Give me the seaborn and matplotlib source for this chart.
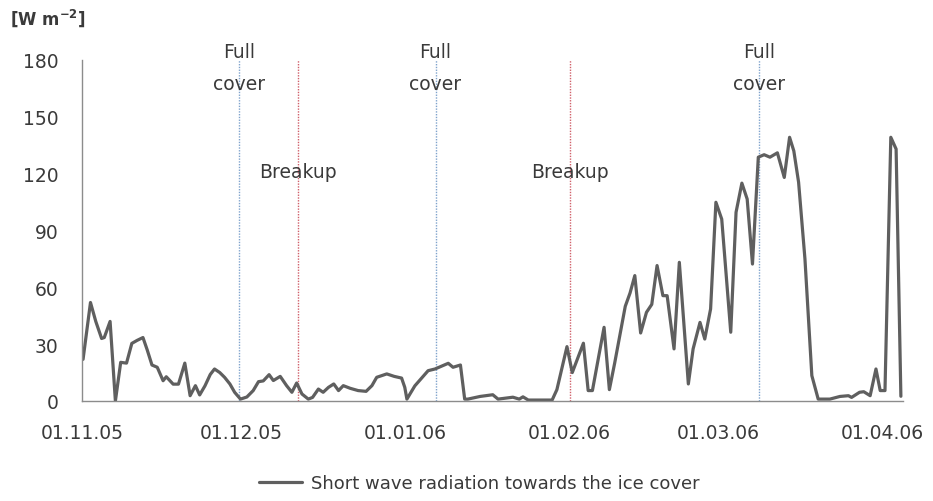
import matplotlib
matplotlib.use("Agg")
from matplotlib import pyplot as plt
import matplotlib.dates as mdates
import numpy as np
import pandas as pd
import seaborn as sns

# day offsets from 01.11.05 and the radiation read at each vertex
days = [0.2, 1.6, 2.6, 3.7, 4.2, 5.3, 6.3, 7.3, 8.4, 9.4, 10.4, 11.5, 12.3, 13.2,
        14.2, 15.3, 15.9, 17.2, 18.2, 19.4, 20.4, 21.4, 22.2, 23.2, 24.2, 25.0,
        26.0, 26.9, 27.9, 28.8, 29.9, 31.1, 32.3, 33.3, 34.2, 35.3, 36.1, 37.4,
        38.6, 39.6, 40.5, 41.5, 42.7, 43.5, 44.6, 45.5, 46.5, 47.5, 48.4, 49.3,
        50.6, 52.1, 53.6, 54.7, 55.6, 57.5, 58.9, 60.3, 60.9, 61.3, 62.8, 65.3,
        66.6, 69.1, 70.0, 71.4, 72.2, 72.8, 75.1, 77.5, 78.5, 81.3, 82.5, 83.2,
        84.2, 88.7, 89.6, 91.5, 92.5, 94.6, 95.5, 96.3, 98.5, 99.5, 100.5, 101.5,
        102.5, 103.4, 104.3, 105.4, 106.5, 107.5, 108.5, 109.6, 110.4, 111.7,
        112.7, 114.4, 115.3, 116.6, 117.5, 118.6, 119.6, 120.7, 122.4, 123.4,
        124.5, 125.5, 126.5, 127.6, 128.7, 129.8, 131.2, 132.5, 133.5, 134.3,
        135.2, 136.4, 137.7, 138.9, 141.1, 143.0, 144.6, 145.2, 146.7, 147.5,
        148.7, 149.8, 150.6, 151.5, 152.6, 153.6, 154.5]
radiation = [22, 52, 42, 33, 33.5, 42, 0, 20.4, 20, 30.4, 32, 33.5, 27, 19,
             17.8, 10.7, 12.8, 8.9, 8.9, 20, 2.8, 8.1, 3.2, 8, 14, 16.9,
             15, 12.5, 9, 4.6, 1, 2.1, 5.5, 10.2, 10.6, 13.9, 10.8, 13,
             8.1, 4.6, 9.5, 3.7, 1, 1.9, 6.3, 4.6, 7.2, 9, 5.5, 8.1,
             6.7, 5.5, 5.1, 8.1, 12.5, 14.3, 13, 12.1, 7.2, 1, 8, 16,
             16.9, 19.9, 17.8, 19, 1, 1, 2.4, 3.3, 1, 2, 1, 2.2,
             0.5, 0.5, 6, 28.7, 15, 30.5, 5.5, 5.5, 38.9, 6, 20, 35,
             50, 57, 66.2, 35.9, 46.8, 51, 71.5, 55.6, 55.6, 27.5,
             73.2, 9, 27.5, 41.5, 32.7, 48.6, 104.9, 96, 36.3, 99.6,
             115, 106.6, 72.3, 128.7, 130, 128.7, 131, 118, 139.2, 132,
             115.5, 75, 13.4, 1, 1, 2.4, 2.8, 1.9, 4.6, 4.9,
             2.8, 16.9, 5.5, 5.5, 139.2, 133, 2.5]

full_cover_days = [29.7, 66.7, 127.7]
breakup_days = [40.7, 92.1]
tick_dates = ["2005-11-01", "2005-12-01", "2006-01-01", "2006-02-01",
              "2006-03-01", "2006-04-01"]
series_label = "Short wave radiation towards the ice cover"

start = pd.Timestamp("2005-11-01")
df = pd.DataFrame({"date": start + pd.to_timedelta(days, unit="D"),
                   "value": radiation})

sns.set_theme(style="white")
plt.rcParams["font.family"] = ["DejaVu Sans"]
text_col = "#3a3a3a"

fig = plt.figure(figsize=(9.33, 5.02), dpi=100)
ax = fig.add_axes([82 / 933, 1 - 402 / 502, (903 - 82) / 933, (402 - 61) / 502])

sns.lineplot(data=df, x="date", y="value", ax=ax, color="#5f5f5f",
             linewidth=2.3, label=series_label, legend=False)

ymax = 180
for d in full_cover_days:
    x = start + pd.Timedelta(days=d)
    ax.plot([x, x], [0, ymax], color="#7fa3cc", lw=1.0, ls=(0, (1, 1)), zorder=1)
    ax.text(x, 184.5, "Full", ha="center", va="center", fontsize=13.5,
            color=text_col, clip_on=False)
    ax.text(x, 167.5, "cover", ha="center", va="center", fontsize=13.5,
            color=text_col, clip_on=False)
for d in breakup_days:
    x = start + pd.Timedelta(days=d)
    ax.plot([x, x], [0, ymax], color="#d0606a", lw=1.0, ls=(0, (1, 1)), zorder=1)
    ax.text(x, 121, "Breakup", ha="center", va="center", fontsize=13.5,
            color=text_col)

ax.set_xlim(start, start + pd.Timedelta(days=154.9))
ax.set_ylim(0, ymax)
ax.set_yticks(np.arange(0, 181, 30))
ax.set_xticks(pd.to_datetime(tick_dates))
ax.xaxis.set_major_formatter(mdates.DateFormatter("%d.%m.%y"))
ax.set_xlabel("")
ax.set_ylabel("")

for side in ["top", "right"]:
    ax.spines[side].set_visible(False)
for side in ["left", "bottom"]:
    ax.spines[side].set_color("#8c8c8c")
    ax.spines[side].set_linewidth(1.0)
ax.tick_params(axis="both", which="major", direction="out", length=6,
               width=1, color="#8c8c8c", labelsize=13.5, labelcolor=text_col)
ax.tick_params(axis="y", pad=11)
ax.tick_params(axis="x", pad=10)

fig.text(10 / 933, 1 - 18 / 502, r"[W m$^{\mathbf{-2}}$]", ha="left",
         va="center", fontsize=12, fontweight="bold", color=text_col)

handles, labels = ax.get_legend_handles_labels()
fig.legend(handles, labels, loc="center", bbox_to_anchor=(479 / 933, 1 - 484 / 502),
           frameon=False, fontsize=13, handlelength=2.4, handletextpad=0.5,
           labelcolor=text_col)

fig.savefig("out.png", dpi=100)
